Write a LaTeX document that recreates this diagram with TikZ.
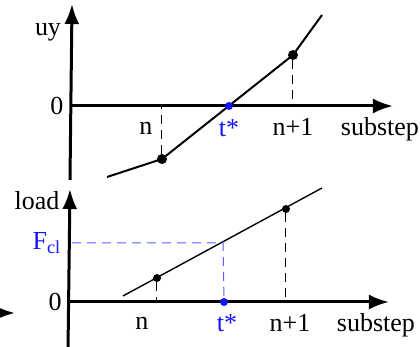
\documentclass[tikz,border=0pt]{standalone}
\usepackage{fontspec}
\setmainfont{Liberation Serif}
\usepackage{xcolor}
\definecolor{tblue}{RGB}{20,20,255}
\definecolor{lblue}{RGB}{85,95,255}
\usetikzlibrary{arrows.meta,calc,positioning}

\begin{document}
\begin{tikzpicture}[x=0.5pt,y=-0.5pt,font=\fontsize{13}{15}\selectfont,
  axis/.style={line width=1.5pt,-{Latex[length=10pt,width=7.5pt]}},
  dot/.style={circle,fill=black,inner sep=0pt,minimum size=5pt},
  bdot/.style={circle,fill=tblue,inner sep=0pt,minimum size=4pt},
  guide/.style={dashed,line width=0.5pt,dash pattern=on 4.5pt off 3pt}]
\useasboundingbox (0,0) rectangle (420,347);
% upper plot: uy
\coordinate (yb1) at (70,180);
\coordinate (yt1) at (72,4);
\coordinate (xo1) at (72,106);
\coordinate (xe1) at (393,106);
\draw[axis] (yb1) -- (yt1);
\draw[axis] (xo1) -- (xe1);
\coordinate (c0) at (107,177);
\node[dot] (pn) at (162,159) {};
\node[dot] (pn1) at (293,55) {};
\coordinate (c3) at (322,15);
\coordinate (fn) at (162,106);
\coordinate (fn1) at (293,106);
\draw[line width=1pt] (c0) -- (pn.center) -- (pn1.center) -- (c3);
\draw[guide] (pn) -- (fn);
\draw[guide] (pn1) -- (fn1);
\node[bdot] (ts1) at (229,106) {};
\node (uy) at (48,32) {uy};
\node (z1) at (57,106) {0};
\node (ln1) at (146,128) {n};
\node[text=tblue] (lt1) at (229,128) {t*};
\node (lm1) at (293,127) {n+1};
\node (ls1) at (380,129) {substep};
% lower plot: load
\coordinate (yb2) at (68,350);
\coordinate (yt2) at (70,189);
\coordinate (xo2) at (70,302);
\coordinate (xe2) at (389,302);
\draw[axis] (yb2) -- (yt2);
\draw[axis] (xo2) -- (xe2);
\coordinate (d0) at (123,296);
\coordinate (d1) at (322,188);
\draw[line width=0.7pt] (d0) -- (d1);
\node[dot,minimum size=4pt] (qn) at (157,278) {};
\node[dot,minimum size=4pt] (qn1) at (286,209) {};
\coordinate (gn) at (157,302);
\coordinate (gn1) at (286,302);
\draw[guide] (qn) -- (gn);
\draw[guide] (qn1) -- (gn1);
\coordinate (fa) at (72,243);
\coordinate (fb) at (223,243);
\node[bdot] (ts2) at (224,302) {};
\draw[guide,lblue] (fa) -- (fb) -- (ts2);
\node (ld) at (37,201) {load};
\node (z2) at (55,302) {0};
\node[text=tblue] (fcl) at (47,243) {F\textsubscript{cl}};
\node (ln2) at (142,323) {n};
\node[text=tblue] (lt2) at (227,323) {t*};
\node (lm2) at (290,323) {n+1};
\node (ls2) at (376,325) {substep};
% cut-off arrow at the left edge
\coordinate (ca) at (-20,313);
\coordinate (cb) at (15,313);
\draw[axis] (ca) -- (cb);
\end{tikzpicture}
\end{document}
